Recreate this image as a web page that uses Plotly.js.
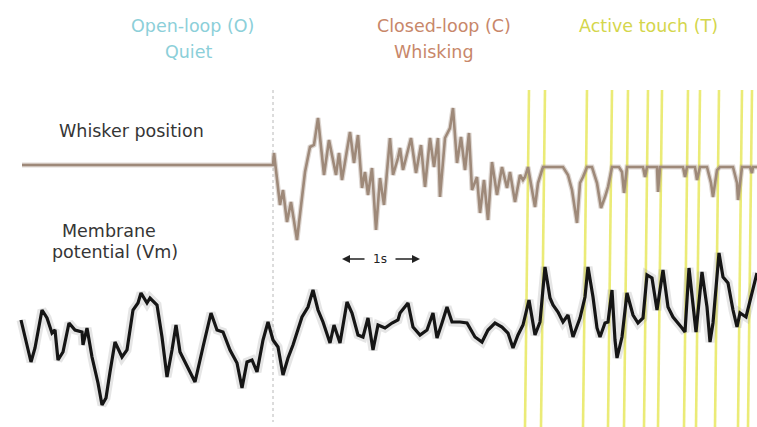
<!DOCTYPE html>
<html>
<head>
<meta charset="utf-8">
<script src="https://cdn.plot.ly/plotly-3.0.1.min.js"></script>
<style>html,body{margin:0;padding:0;background:#fff;}#chart{width:757px;height:427px;}</style>
</head>
<body>
<div id="chart"></div>
<script>
// ---- data (time in figure units, values in figure units; y grows downward) ----
const whiskerT = [22, 273, 274, 280, 283, 287, 291, 297, 305, 310,
  314, 318, 324, 329, 336, 339, 342, 350, 354, 358,
  362, 365, 368, 372, 376, 380, 384, 390, 393, 398,
  400, 403, 411, 416, 421, 425, 430, 434, 438, 440,
  445, 450, 453, 457, 461, 465, 469, 472, 477, 480,
  484, 488, 492, 497, 502, 507, 510, 515, 520, 523,
  525, 528, 535, 538, 542, 543, 563, 568, 572, 577,
  580, 583, 587, 592, 597, 601, 605, 608, 612, 619,
  622, 624, 627, 643, 645, 647, 657, 658, 660, 683,
  685, 687, 695, 697, 700, 707, 711, 713, 717, 720,
  733, 737, 738, 742, 750, 752, 753, 757];
const whiskerPos = [165, 165, 153, 205, 190, 222, 202, 240, 172, 147,
  145, 118, 175, 140, 175, 153, 180, 132, 163, 135,
  188, 172, 195, 168, 230, 178, 205, 138, 175, 158,
  148, 170, 138, 173, 145, 187, 138, 167, 138, 197,
  138, 128, 108, 163, 137, 170, 133, 190, 177, 213,
  180, 220, 162, 195, 167, 188, 172, 202, 175, 180,
  177, 167, 207, 183, 170, 167, 167, 175, 190, 223,
  183, 177, 167, 167, 183, 208, 197, 187, 167, 167,
  172, 193, 167, 167, 177, 167, 167, 192, 167, 167,
  177, 167, 167, 180, 167, 167, 183, 197, 170, 167,
  167, 183, 200, 167, 167, 173, 167, 167];

const vmT = [21, 24, 31, 35, 42, 47, 52, 55, 58, 63,
  69, 75, 82, 83, 87, 92, 98, 102, 106, 110,
  115, 122, 127, 133, 138, 141, 147, 150, 157, 162,
  167, 172, 176, 180, 188, 195, 203, 211, 217, 223,
  230, 237, 242, 247, 252, 257, 263, 268, 273, 278,
  283, 288, 293, 302, 308, 313, 318, 323, 330, 334,
  340, 347, 352, 358, 363, 368, 373, 378, 385, 392,
  398, 400, 408, 413, 420, 427, 433, 437, 442, 447,
  452, 460, 467, 475, 482, 488, 495, 502, 508, 513,
  518, 523, 529, 535, 540, 545, 550, 553, 558, 563,
  568, 573, 580, 585, 588, 593, 597, 600, 605, 608,
  612, 615, 617, 622, 627, 630, 633, 638, 643, 647,
  652, 657, 663, 668, 673, 682, 685, 689, 693, 696,
  702, 707, 710, 713, 719, 723, 728, 733, 737, 740,
  746, 752, 757];
const vmVal = [320, 332, 362, 348, 310, 318, 333, 330, 360, 352,
  323, 330, 332, 345, 328, 357, 383, 405, 398, 372,
  342, 357, 350, 310, 303, 293, 303, 298, 305, 337,
  377, 350, 325, 352, 368, 382, 347, 313, 330, 332,
  350, 363, 388, 362, 360, 372, 340, 322, 340, 347,
  375, 358, 345, 317, 307, 290, 310, 322, 343, 325,
  343, 302, 313, 335, 337, 318, 350, 325, 328, 323,
  320, 313, 303, 327, 335, 330, 313, 338, 323, 307,
  322, 322, 323, 337, 342, 330, 323, 327, 333, 348,
  335, 325, 300, 335, 322, 267, 298, 305, 312, 322,
  315, 337, 318, 297, 267, 297, 328, 337, 323, 322,
  290, 340, 358, 337, 293, 303, 315, 323, 318, 275,
  278, 310, 270, 307, 317, 328, 332, 268, 307, 332,
  272, 307, 342, 323, 253, 277, 283, 310, 327, 313,
  317, 293, 273];

const touchT = [525, 541, 583, 608, 624, 644, 658, 684, 696, 715, 738, 748];

const phaseLabels = ["Open-loop (O)", "Quiet", "Closed-loop (C)", "Whisking", "Active touch (T)"];
const traceLabels = ["Whisker position", "Membrane", "potential (Vm)"];
const scaleLabel = "1s";
const transitionT = 273;

// ---- styling / layout ----
const FONT = "DejaVu Sans, Arial, sans-serif";
const lean = 4;            // touch lines lean slightly in the original photo
const topY = 90, botY = 427;

const tx = [], ty = [];
touchT.forEach(t => { tx.push(t + lean, t, null); ty.push(topY, botY, null); });

const traces = [
  { x: tx, y: ty, mode: "lines", line: { color: "rgba(232,232,95,0.85)", width: 2.6 }, hoverinfo: "skip" },
  { x: [transitionT, transitionT], y: [topY, 422], mode: "lines", line: { color: "#b8b8b8", width: 1, dash: "dot" }, hoverinfo: "skip" },
  { x: whiskerT, y: whiskerPos, mode: "lines", line: { color: "rgba(160,140,125,0.35)", width: 5 }, hoverinfo: "skip" },
  { x: whiskerT, y: whiskerPos, mode: "lines", line: { color: "#9e8979", width: 2.6 }, hoverinfo: "skip" },
  { x: vmT, y: vmVal, mode: "lines", line: { color: "rgba(150,150,150,0.25)", width: 9 }, hoverinfo: "skip" },
  { x: vmT, y: vmVal, mode: "lines", line: { color: "#151515", width: 3.2 }, hoverinfo: "skip" }
];

const colors = ["#8ccfd9", "#8ccfd9", "#c8876a", "#c8876a", "#d4d64c"];
const px = [192, 188, 444, 434, 648];
const py = [26, 52, 26, 52, 26];
const ann = phaseLabels.map((s, i) => ({
  text: s, x: px[i], y: py[i], xref: "x", yref: "y", showarrow: false,
  xanchor: "center", yanchor: "middle", font: { family: FONT, size: 17.5, color: colors[i] }
}));
const lx = [131, 109, 115], ly = [131, 231, 252];
traceLabels.forEach((s, i) => ann.push({
  text: s, x: lx[i], y: ly[i], xref: "x", yref: "y", showarrow: false,
  xanchor: "center", yanchor: "middle", font: { family: FONT, size: 17.5, color: "#353535" }
}));
ann.push({ text: scaleLabel, x: 380, y: 259, xref: "x", yref: "y", showarrow: false,
  xanchor: "center", yanchor: "middle", font: { family: FONT, size: 12, color: "#222" } });
ann.push({ text: "", x: 342, y: 259, ax: 366, ay: 259, xref: "x", yref: "y", axref: "x", ayref: "y",
  showarrow: true, arrowhead: 2, arrowsize: 1, arrowwidth: 1.6, arrowcolor: "#222" });
ann.push({ text: "", x: 420, y: 259, ax: 394, ay: 259, xref: "x", yref: "y", axref: "x", ayref: "y",
  showarrow: true, arrowhead: 2, arrowsize: 1, arrowwidth: 1.6, arrowcolor: "#222" });

const layout = {
  width: 757, height: 427,
  margin: { l: 0, r: 0, t: 0, b: 0, pad: 0 },
  paper_bgcolor: "#ffffff", plot_bgcolor: "#ffffff",
  showlegend: false,
  xaxis: { range: [0, 757], visible: false, fixedrange: true },
  yaxis: { range: [427, 0], visible: false, fixedrange: true },
  annotations: ann
};

Plotly.newPlot("chart", traces, layout, { staticPlot: true, displayModeBar: false });
</script>
</body>
</html>
